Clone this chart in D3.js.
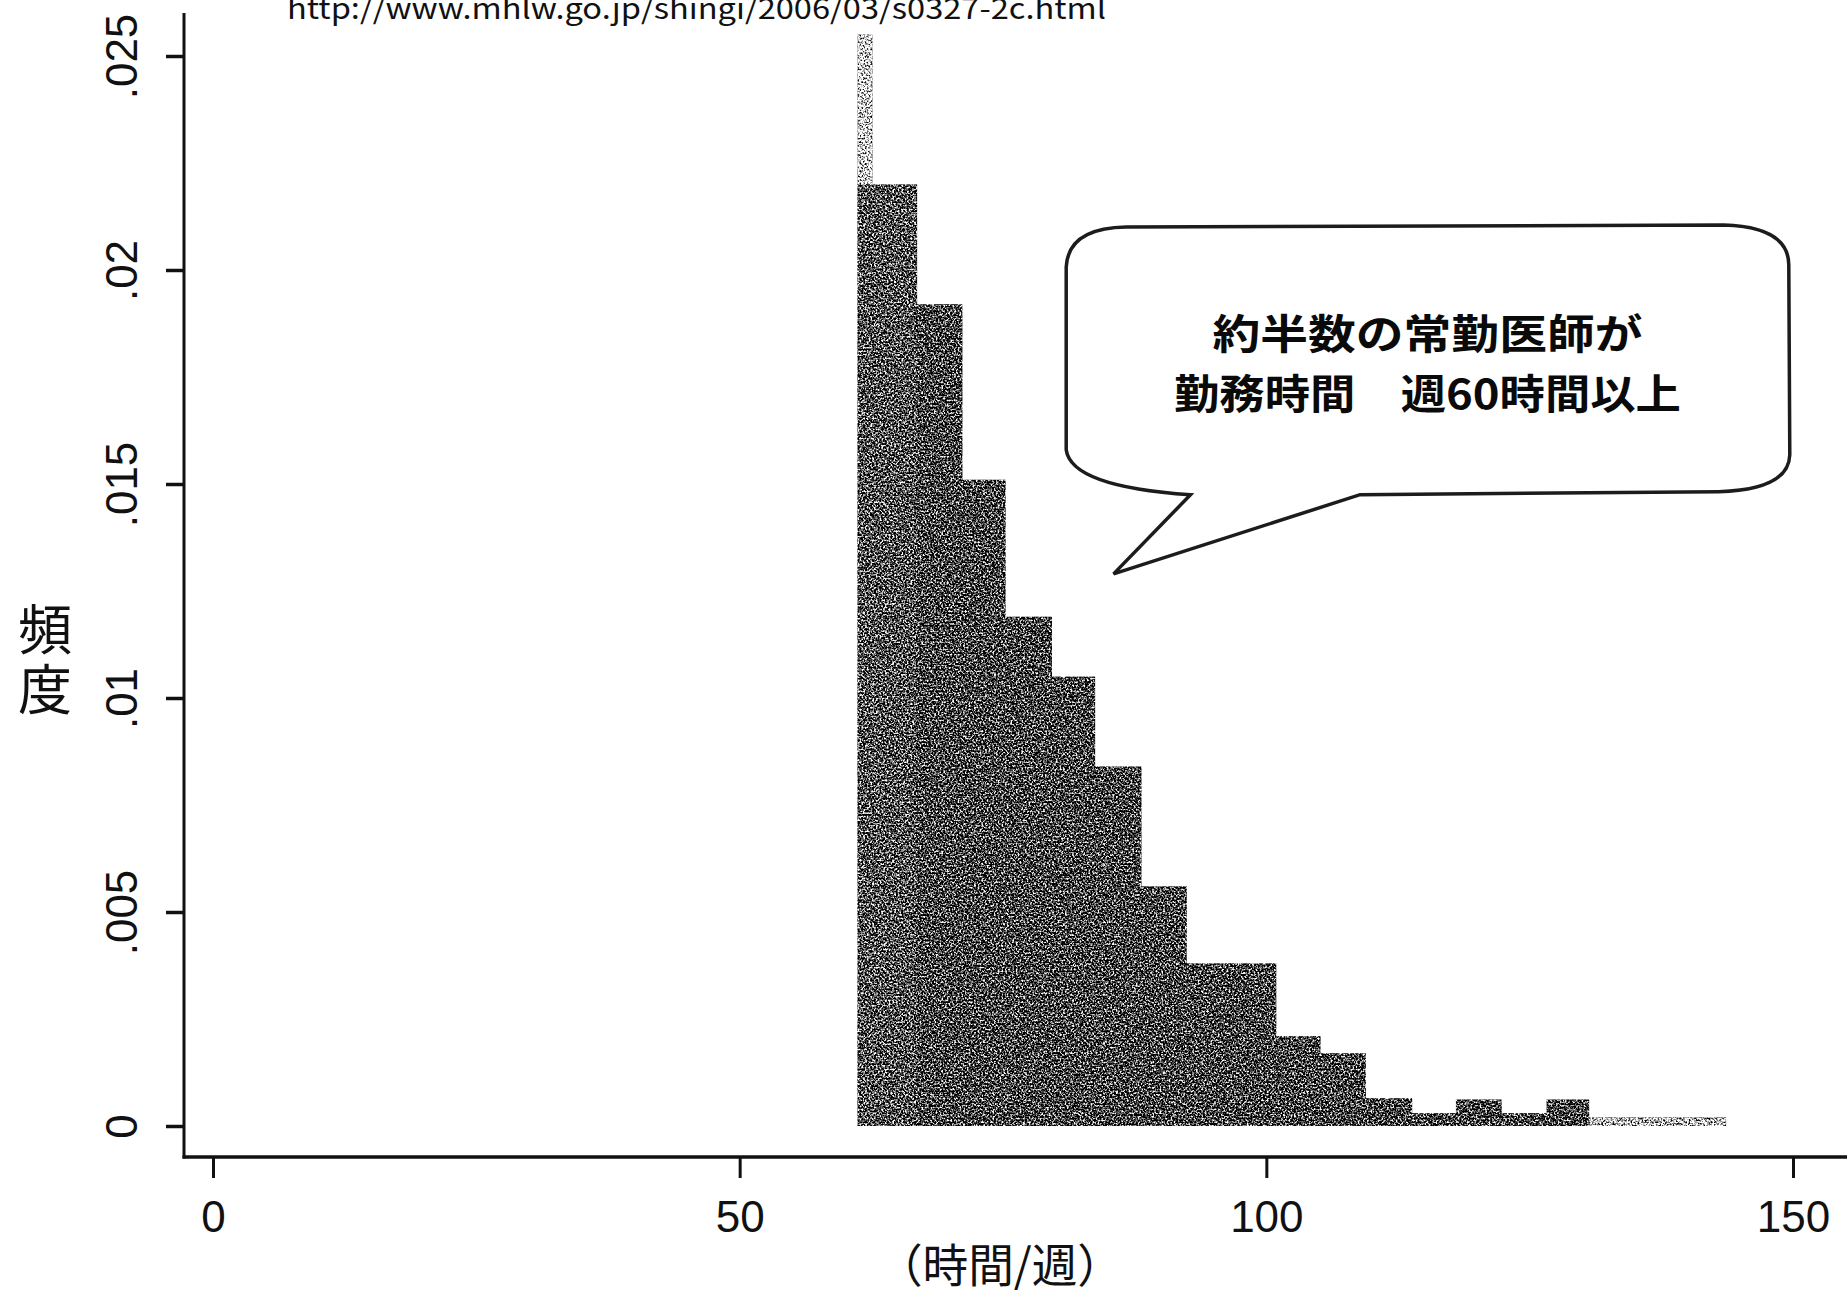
<!DOCTYPE html>
<html lang="ja">
  <head>
    <meta charset="UTF-8" />
    <title>常勤医師 週あたり勤務時間 ヒストグラム</title>
    <style>
      body {
        margin: 0;
        background: #ffffff;
      }
      svg {
        display: block;
      }
    </style>
  </head>
  <body>
    <div id="chart"></div>

    <script src="https://cdn.jsdelivr.net/npm/d3@7/dist/d3.min.js"></script>

    <script>
      ///////////////////////////////////////////////////////////////////////////
      //////////////////////////////// Data /////////////////////////////////////
      ///////////////////////////////////////////////////////////////////////////

      //bin edges in hours per week
      var binEdges = [
        61.2, 66.8, 71.1, 75.2, 79.6, 83.7, 88.1, 92.4, 96.6, 100.9, 105.1,
        109.4, 113.8, 118.0, 122.3, 126.6, 130.6, 135.1, 139.4, 143.6
      ];
      //density of each bin
      var binDensity = [
        0.022, 0.0192, 0.0151, 0.0119, 0.0105, 0.0084, 0.0056, 0.0038, 0.0038,
        0.0021, 0.0017, 0.00065, 0.0003, 0.00062, 0.0003, 0.00062, 0.0002,
        0.0002, 0.0002
      ];
      //the faint narrow spike at the left edge
      var spikeEdges = [61.2, 62.6];
      var spikeDensity = [0.0255];

      var xTicks = [0, 50, 100, 150];
      var xTickLabels = ["0", "50", "100", "150"];
      var yTicks = [0, 0.005, 0.01, 0.015, 0.02, 0.025];
      var yTickLabels = ["0", ".005", ".01", ".015", ".02", ".025"];

      var sourceText = "http://www.mhlw.go.jp/shingi/2006/03/s0327-2c.html";
      var xTitle = "（時間/週）";
      var yTitle = "頻度";
      var noteLines = ["約半数の常勤医師が", "勤務時間　週60時間以上"];

      ///////////////////////////////////////////////////////////////////////////
      //////////////////////////// Set up the svg ///////////////////////////////
      ///////////////////////////////////////////////////////////////////////////

      var width = 1847,
        height = 1299;

      var svg = d3
        .select("#chart")
        .append("svg")
        .attr("width", width)
        .attr("height", height)
        .style("background", "#ffffff");

      var x = d3.scaleLinear().domain([0, 150]).range([213, 1793]);
      var y = d3.scaleLinear().domain([0, 0.025]).range([1126, 56]);

      var axisLeftX = 184,
        axisBottomY = 1157;

      ///////////////////////////////////////////////////////////////////////////
      ///////////////////////// Grain filter (scan look) ////////////////////////
      ///////////////////////////////////////////////////////////////////////////

      var defs = svg.append("defs");
      var grain = defs
        .append("filter")
        .attr("id", "grain")
        .attr("filterUnits", "userSpaceOnUse")
        .attr("x", 0)
        .attr("y", 0)
        .attr("width", width)
        .attr("height", height)
        .attr("color-interpolation-filters", "sRGB");
      grain
        .append("feTurbulence")
        .attr("type", "fractalNoise")
        .attr("baseFrequency", "0.55")
        .attr("numOctaves", 2)
        .attr("seed", 7)
        .attr("result", "noise");
      grain
        .append("feColorMatrix")
        .attr("in", "noise")
        .attr("type", "matrix")
        .attr("values", "1 0 0 0 0  1 0 0 0 0  1 0 0 0 0  0 0 0 0 1")
        .attr("result", "grey");
      grain
        .append("feComposite")
        .attr("in", "SourceGraphic")
        .attr("in2", "grey")
        .attr("operator", "arithmetic")
        .attr("k1", 0)
        .attr("k2", 1)
        .attr("k3", 3.5)
        .attr("k4", -1.75)
        .attr("result", "mix");
      grain
        .append("feComposite")
        .attr("in", "mix")
        .attr("in2", "SourceAlpha")
        .attr("operator", "in");

      ///////////////////////////////////////////////////////////////////////////
      ////////////////////////////// Histogram //////////////////////////////////
      ///////////////////////////////////////////////////////////////////////////

      var bins = binDensity.map(function(d, i) {
        return { x0: binEdges[i], x1: binEdges[i + 1], v: d };
      });
      var spike = spikeDensity.map(function(d, i) {
        return { x0: spikeEdges[i], x1: spikeEdges[i + 1], v: d };
      });

      var barWrapper = svg.append("g").attr("filter", "url(#grain)");

      barWrapper
        .selectAll(".spike")
        .data(spike)
        .enter()
        .append("rect")
        .attr("class", "spike")
        .attr("x", function(d) {
          return x(d.x0);
        })
        .attr("width", function(d) {
          return x(d.x1) - x(d.x0);
        })
        .attr("y", function(d) {
          return y(d.v);
        })
        .attr("height", function(d) {
          return y(0) - y(d.v);
        })
        .style("fill", "#d4d4d4");

      barWrapper
        .selectAll(".bar")
        .data(bins)
        .enter()
        .append("rect")
        .attr("class", "bar")
        .attr("x", function(d) {
          return x(d.x0);
        })
        .attr("width", function(d) {
          return x(d.x1) - x(d.x0) + 0.5;
        })
        .attr("y", function(d) {
          return y(d.v);
        })
        .attr("height", function(d) {
          return y(0) - y(d.v);
        })
        .style("fill", function(d) {
          //tail bins in the scan are lighter
          return d.v < 0.00025 ? "#b8b8b8" : d.v > 0.02 ? "#4c4c4c" : "#3c3c3c";
        });

      ///////////////////////////////////////////////////////////////////////////
      //////////////////////////////// Axes /////////////////////////////////////
      ///////////////////////////////////////////////////////////////////////////

      //x axis
      var xAxis = d3
        .axisBottom(x)
        .tickValues(xTicks)
        .tickSize(21)
        .tickFormat(function(d, i) {
          return xTickLabels[i];
        });

      var gx = svg
        .append("g")
        .attr("class", "x axis")
        .attr("transform", "translate(0," + axisBottomY + ")")
        .call(xAxis);
      gx.select(".domain").remove();
      gx.selectAll(".tick line")
        .style("stroke", "#111")
        .style("stroke-width", 3);
      gx.selectAll(".tick text")
        .attr("y", 75)
        .attr("dy", 0)
        .style("font-family", "'Liberation Sans', Arial, sans-serif")
        .style("font-size", "44px")
        .style("fill", "#111");

      svg
        .append("line")
        .attr("x1", axisLeftX - 1.5)
        .attr("x2", width)
        .attr("y1", axisBottomY)
        .attr("y2", axisBottomY)
        .style("stroke", "#111")
        .style("stroke-width", 3.5);

      //y axis
      var yAxis = d3
        .axisLeft(y)
        .tickValues(yTicks)
        .tickSize(18)
        .tickFormat(function(d, i) {
          return yTickLabels[i];
        });

      var gy = svg
        .append("g")
        .attr("class", "y axis")
        .attr("transform", "translate(" + axisLeftX + ",0)")
        .call(yAxis);
      gy.select(".domain").remove();
      gy.selectAll(".tick line")
        .style("stroke", "#111")
        .style("stroke-width", 3.5);
      gy.selectAll(".tick text")
        .attr("x", null)
        .attr("transform", "translate(-63,0) rotate(-90)")
        .attr("text-anchor", "middle")
        .attr("dy", "0.36em")
        .style("font-family", "'Liberation Sans', Arial, sans-serif")
        .style("font-size", "44px")
        .style("fill", "#111");

      svg
        .append("line")
        .attr("x1", axisLeftX)
        .attr("x2", axisLeftX)
        .attr("y1", 13)
        .attr("y2", axisBottomY + 1.5)
        .style("stroke", "#111")
        .style("stroke-width", 3);

      //axis titles
      svg
        .append("text")
        .attr("x", 1000)
        .attr("y", 1282)
        .attr("text-anchor", "middle")
        .attr("textLength", 246)
        .attr("lengthAdjust", "spacingAndGlyphs")
        .style("font-family", "'Noto Sans CJK JP', sans-serif")
        .style("font-size", "46px")
        .style("fill", "#111")
        .text(xTitle);

      //stacked upright characters
      svg
        .append("text")
        .attr("class", "ytitle")
        .attr("x", 45)
        .attr("y", 602)
        .style("writing-mode", "vertical-rl")
        .style("glyph-orientation-vertical", "0")
        .style("font-family", "'Noto Sans CJK JP', sans-serif")
        .style("font-size", "54px")
        .style("letter-spacing", "6px")
        .style("fill", "#111")
        .text(yTitle);

      //source line at the top (partly cut off in the original)
      svg
        .append("text")
        .attr("x", 287)
        .attr("y", 19)
        .attr("textLength", 819)
        .attr("lengthAdjust", "spacingAndGlyphs")
        .style("font-family", "'Noto Sans CJK JP', sans-serif")
        .style("font-size", "29px")
        .style("fill", "#111")
        .text(sourceText);

      ///////////////////////////////////////////////////////////////////////////
      ////////////////////////////// Speech bubble //////////////////////////////
      ///////////////////////////////////////////////////////////////////////////

      //bubble box in data units, converted through the scales
      var bL = x(81.0),
        bR = x(149.6),
        bT = y(0.02105),
        bB = y(0.01475),
        tipX = x(85.5),
        tipY = y(0.0129),
        baseL = x(92.8),
        baseR = x(108.9);

      var bubble = d3.path();
      bubble.moveTo(bL + 60, bT + 2);
      bubble.lineTo(bR - 65, bT);
      bubble.quadraticCurveTo(bR, bT + 2, bR, bT + 40);
      bubble.lineTo(bR + 1, bB - 40);
      bubble.quadraticCurveTo(bR, bB - 5, bR - 70, bB - 3);
      bubble.lineTo(baseR, bB);
      bubble.lineTo(tipX, tipY);
      bubble.lineTo(baseL, bB);
      bubble.quadraticCurveTo(bL + 5, bB - 8, bL, bB - 45);
      bubble.lineTo(bL, bT + 42);
      bubble.quadraticCurveTo(bL + 2, bT + 3, bL + 60, bT + 2);
      bubble.closePath();

      svg
        .append("path")
        .attr("class", "bubble")
        .attr("d", bubble.toString())
        .style("fill", "#ffffff")
        .style("stroke", "#1c1c1c")
        .style("stroke-width", 3.5)
        .style("stroke-linejoin", "miter");

      var noteX = x(115.3);
      var note = svg
        .append("text")
        .attr("class", "note")
        .attr("text-anchor", "middle")
        .style("font-family", "'Noto Sans CJK JP', sans-serif")
        .style("font-weight", "bold")
        .style("font-size", "41px")
        .style("fill", "#0a0a0a");

      note
        .selectAll("tspan")
        .data(noteLines)
        .enter()
        .append("tspan")
        .attr("x", noteX)
        .attr("y", function(d, i) {
          return 349 + i * 60;
        })
        .attr("textLength", function(d, i) {
          return i === 0 ? 430 : 507;
        })
        .attr("lengthAdjust", "spacingAndGlyphs")
        .text(function(d) {
          return d;
        });
    </script>
  </body>
</html>
